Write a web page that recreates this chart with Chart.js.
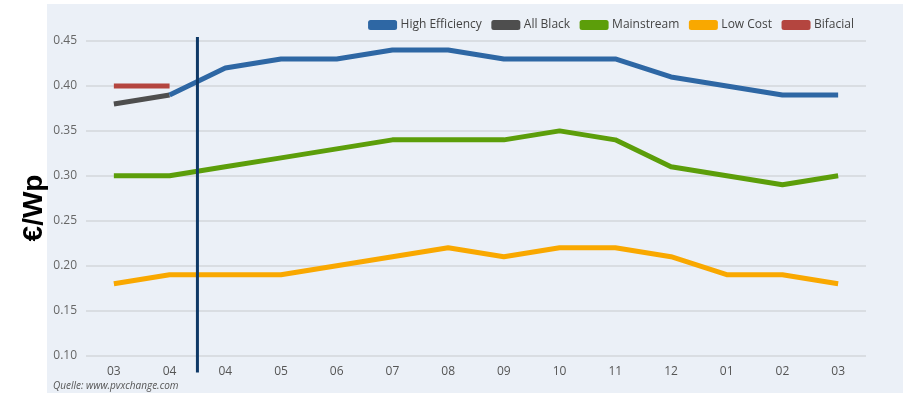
<!DOCTYPE html>
<html>
<head>
<meta charset="utf-8">
<script src="https://cdn.jsdelivr.net/npm/chart.js@4"></script>
<style>
  html, body { margin: 0; padding: 0; background: #ffffff; }
  #wrap { position: relative; width: 903px; height: 393px; }
</style>
</head>
<body>
<div id="wrap"><canvas id="chart" width="903" height="393"></canvas></div>
<script>
// Month labels (two consecutive years, split by the marker line)
const months = ['03', '04', '04', '05', '06', '07', '08', '09', '10', '11', '12', '01', '02', '03'];

// Module prices in €/Wp
const highEfficiency = [null, 0.39, 0.42, 0.43, 0.43, 0.44, 0.44, 0.43, 0.43, 0.43, 0.41, 0.40, 0.39, 0.39];
const allBlack      = [0.38, 0.39, null, null, null, null, null, null, null, null, null, null, null, null];
const mainstream    = [0.30, 0.30, 0.31, 0.32, 0.33, 0.34, 0.34, 0.34, 0.35, 0.34, 0.31, 0.30, 0.29, 0.30];
const lowCost       = [0.18, 0.19, 0.19, 0.19, 0.20, 0.21, 0.22, 0.21, 0.22, 0.22, 0.21, 0.19, 0.19, 0.18];
const bifacial      = [0.40, 0.40, null, null, null, null, null, null, null, null, null, null, null, null];

// Position of the year split, between the two "04" columns
const splitIndex = 1.5;

const yTicks = [0.10, 0.15, 0.20, 0.25, 0.30, 0.35, 0.40, 0.45];

const PANEL = '#ebf0f7';
const FONT = '"Open Sans", "DejaVu Sans", sans-serif';

// Light panel behind the plot, legend and axes
const panelPlugin = {
  id: 'panel',
  beforeDraw(chart) {
    const ctx = chart.ctx;
    ctx.save();
    ctx.fillStyle = PANEL;
    ctx.fillRect(47, 4, chart.width - 47, chart.height - 4);
    ctx.restore();
  }
};

// Vertical year-split line, axis unit label and source note
const overlayPlugin = {
  id: 'overlay',
  afterDatasetsDraw(chart) {
    const ctx = chart.ctx;
    const x = chart.scales.x.getPixelForValue(splitIndex);
    const area = chart.chartArea;
    ctx.save();
    ctx.strokeStyle = '#0e3866';
    ctx.lineWidth = 3;
    ctx.beginPath();
    ctx.moveTo(x, area.top - 4);
    ctx.lineTo(x, area.bottom + 17);
    ctx.stroke();
    ctx.restore();
  },
  afterDraw(chart) {
    const ctx = chart.ctx;
    ctx.save();
    // unit label
    ctx.translate(34, 208);
    ctx.rotate(-Math.PI / 2);
    ctx.fillStyle = '#000000';
    ctx.font = 'bold 28px "Liberation Sans", Arial, sans-serif';
    ctx.textAlign = 'center';
    ctx.textBaseline = 'middle';
    ctx.fillText('€/Wp', 0, 0);
    ctx.restore();

    ctx.save();
    ctx.fillStyle = '#555555';
    ctx.font = 'italic 10px ' + FONT;
    ctx.textAlign = 'left';
    ctx.textBaseline = 'middle';
    ctx.fillText('Quelle: www.pvxchange.com', 53, 386);
    ctx.restore();
  }
};

function line(label, data, color) {
  return {
    label: label,
    data: data,
    borderColor: color,
    backgroundColor: color,
    borderWidth: 5,
    pointRadius: 0,
    pointHoverRadius: 0,
    tension: 0,
    fill: false,
    spanGaps: false,
    borderJoinStyle: 'round'
  };
}

new Chart(document.getElementById('chart'), {
  type: 'line',
  data: {
    labels: months,
    datasets: [
      line('High Efficiency', highEfficiency, '#2e67a4'),
      line('All Black', allBlack, '#4e4e4e'),
      line('Mainstream', mainstream, '#5c9e0a'),
      line('Low Cost', lowCost, '#f9a800'),
      line('Bifacial', bifacial, '#b4453f')
    ]
  },
  options: {
    responsive: false,
    animation: false,
    devicePixelRatio: 1,
    layout: { padding: { left: 47, right: 37, top: 7, bottom: 5 } },
    plugins: {
      legend: {
        position: 'top',
        align: 'end',
        labels: {
          boxWidth: 24,
          boxHeight: 5,
          padding: 12,
          color: '#444444',
          font: { family: FONT, size: 12 }
        }
      },
      tooltip: { enabled: false }
    },
    scales: {
      x: {
        offset: true,
        grid: { display: false, drawTicks: false },
        border: { display: false },
        ticks: {
          color: '#555555',
          padding: 9,
          maxRotation: 0,
          autoSkip: false,
          font: { family: FONT, size: 12 }
        }
      },
      y: {
        min: 0.10,
        max: 0.45,
        afterFit(scale) { scale.width = 39; },
        afterBuildTicks(scale) { scale.ticks = yTicks.map(v => ({ value: v })); },
        grid: { color: '#d9dde2', lineWidth: 2, drawTicks: false },
        border: { display: false },
        ticks: {
          color: '#666666',
          padding: 9,
          font: { family: FONT, size: 12 },
          callback: v => Number(v).toFixed(2)
        }
      }
    }
  },
  plugins: [panelPlugin, overlayPlugin]
});
</script>
</body>
</html>
